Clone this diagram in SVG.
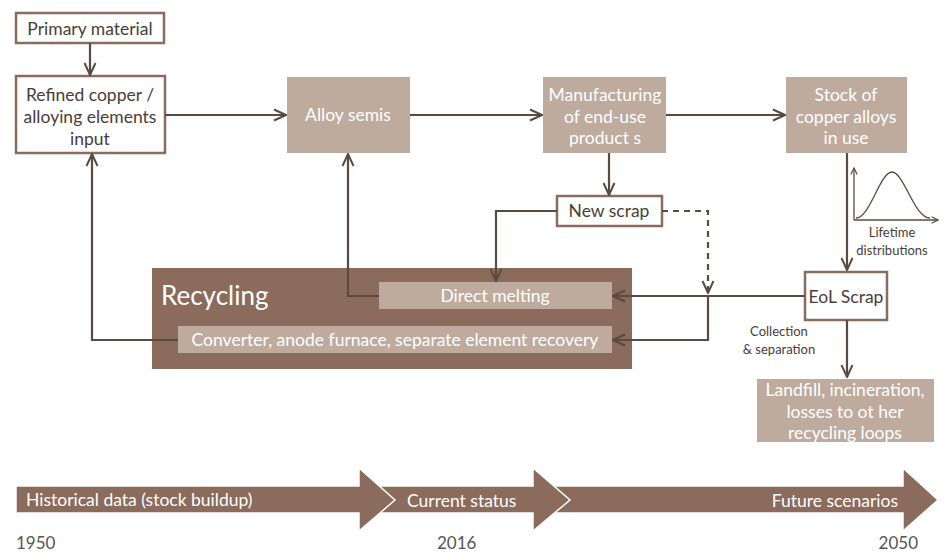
<svg xmlns="http://www.w3.org/2000/svg" width="946" height="554" viewBox="0 0 946 554">
<defs>
<style>
text{font-family:Lato,"Noto Sans","Liberation Sans",sans-serif;font-size:17.5px;}
.wbox{fill:#ffffff;stroke:#8b6b5b;stroke-width:2.5;}
.lbox{fill:#bfaa9e;}
.dark{fill:#8b6b5b;}
.tw{fill:#ffffff;text-anchor:middle;}
.td{fill:#4a3d37;text-anchor:middle;}
.small{font-size:13px;fill:#4a3d37;text-anchor:middle;}
.con{fill:none;stroke:#5a4a42;stroke-width:2.2;}
.dash{stroke-dasharray:6,5;}
.thin{fill:none;stroke:#5a4a42;stroke-width:1.3;}
.tl{fill:#8b6b5b;stroke:#ffffff;stroke-width:1.5;}
.year{fill:#555555;font-size:17px;}
</style>
<marker id="ah" viewBox="0 0 14 14" refX="13" refY="7" markerWidth="14" markerHeight="14" markerUnits="userSpaceOnUse" orient="auto">
<path d="M1,1.5 L13,7 L1,12.5" fill="none" stroke="#5a4a42" stroke-width="2"/>
</marker>
<marker id="ahs" viewBox="0 0 10 10" refX="9" refY="5" markerWidth="8" markerHeight="8" markerUnits="userSpaceOnUse" orient="auto">
<path d="M1,1 L9,5 L1,9" fill="none" stroke="#5a4a42" stroke-width="1.5"/>
</marker>
</defs>

<g id="primary-material">
<rect class="wbox" x="16" y="13" width="148" height="30"/>
<text class="td" x="90" y="35">Primary material</text>
</g>

<g id="refined-copper">
<rect class="wbox" x="16" y="76" width="149" height="77"/>
<text class="td" x="90" y="101">Refined copper /</text>
<text class="td" x="90" y="123">alloying elements</text>
<text class="td" x="90" y="145">input</text>
</g>

<g id="alloy-semis">
<rect class="lbox" x="287" y="77" width="123" height="76"/>
<text class="tw" x="348" y="121">Alloy semis</text>
</g>

<g id="manufacturing">
<rect class="lbox" x="543" y="77" width="123" height="76"/>
<text class="tw" x="605" y="101">Manufacturing</text>
<text class="tw" x="605" y="123">of end-use</text>
<text class="tw" x="605" y="144">product s</text>
</g>

<g id="stock">
<rect class="lbox" x="786" y="77" width="121" height="76"/>
<text class="tw" x="846" y="101">Stock of</text>
<text class="tw" x="846" y="123">copper alloys</text>
<text class="tw" x="846" y="144">in use</text>
</g>

<g id="lifetime">
<path class="thin" d="M854,220 V168" marker-end="url(#ahs)"/>
<path class="thin" d="M854,220 H938" marker-end="url(#ahs)"/>
<path class="thin" d="M856,218 C870,218 880,172 892,172 C904,172 914,218 930,218"/>
<text class="small" x="892" y="237">Lifetime</text>
<text class="small" x="892" y="255">distributions</text>
</g>

<g id="new-scrap">
<rect class="wbox" x="557" y="196" width="105" height="30"/>
<text class="td" x="609" y="217">New scrap</text>
</g>

<g id="recycling">
<rect class="dark" x="152" y="268" width="480" height="101"/>
<text x="161" y="305" style="font-size:26px;fill:#ffffff;">Recycling</text>
</g>

<g id="direct-melting">
<rect class="lbox" x="379" y="282" width="233" height="27"/>
<text class="tw" x="495" y="302">Direct melting</text>
</g>

<g id="converter">
<rect class="lbox" x="178" y="326" width="434" height="27"/>
<text class="tw" x="395" y="346">Converter, anode furnace, separate element recovery</text>
</g>

<g id="eol-scrap">
<rect class="wbox" x="805" y="272" width="82" height="48"/>
<text class="td" x="846" y="303">EoL Scrap</text>
</g>

<g id="collection-label">
<text class="small" x="779" y="336">Collection</text>
<text class="small" x="779" y="354">&amp; separation</text>
</g>

<g id="landfill">
<rect class="lbox" x="757" y="379" width="177" height="63"/>
<text class="tw" x="845" y="396">Landfill, incineration,</text>
<text class="tw" x="845" y="418">losses to ot her</text>
<text class="tw" x="845" y="439">recycling loops</text>
</g>

<g id="timeline">
<polygon class="tl" points="555,486 903,486 903,468 938,500 903,531 903,513 555,513"/>
<polygon class="tl" points="370,486 533,486 533,468 570,500 533,531 533,513 370,513"/>
<polygon class="tl" points="16,486 359,486 359,468 395,500 359,531 359,513 16,513"/>
<text x="26" y="506" style="fill:#ffffff;">Historical data (stock buildup)</text>
<text x="407" y="507" style="fill:#ffffff;">Current status</text>
<text x="898" y="507" style="fill:#ffffff;text-anchor:end;">Future scenarios</text>
<text class="year" x="16" y="549">1950</text>
<text class="year" x="437" y="549">2016</text>
<text class="year" x="918" y="549" style="text-anchor:end;">2050</text>
</g>

<g id="connectors">
<path class="con" d="M90,43 V75" marker-end="url(#ah)"/>
<path class="con" d="M165,115 H286" marker-end="url(#ah)"/>
<path class="con" d="M410,115 H542" marker-end="url(#ah)"/>
<path class="con" d="M666,115 H785" marker-end="url(#ah)"/>
<path class="con" d="M609,153 V195" marker-end="url(#ah)"/>
<path class="con" d="M847,153 V270" marker-end="url(#ah)"/>
<path class="con" d="M557,211 H496 V281" marker-end="url(#ah)"/>
<path class="con dash" d="M662,211 H708 V293" marker-end="url(#ah)"/>
<path class="con" d="M805,296 H613" marker-end="url(#ah)"/>
<path class="con" d="M708,296 V340 H613" marker-end="url(#ah)"/>
<path class="con" d="M379,296 H348 V154" marker-end="url(#ah)"/>
<path class="con" d="M178,340 H92 V154" marker-end="url(#ah)"/>
<path class="con" d="M847,320 V377" marker-end="url(#ah)"/>
</g>
</svg>
